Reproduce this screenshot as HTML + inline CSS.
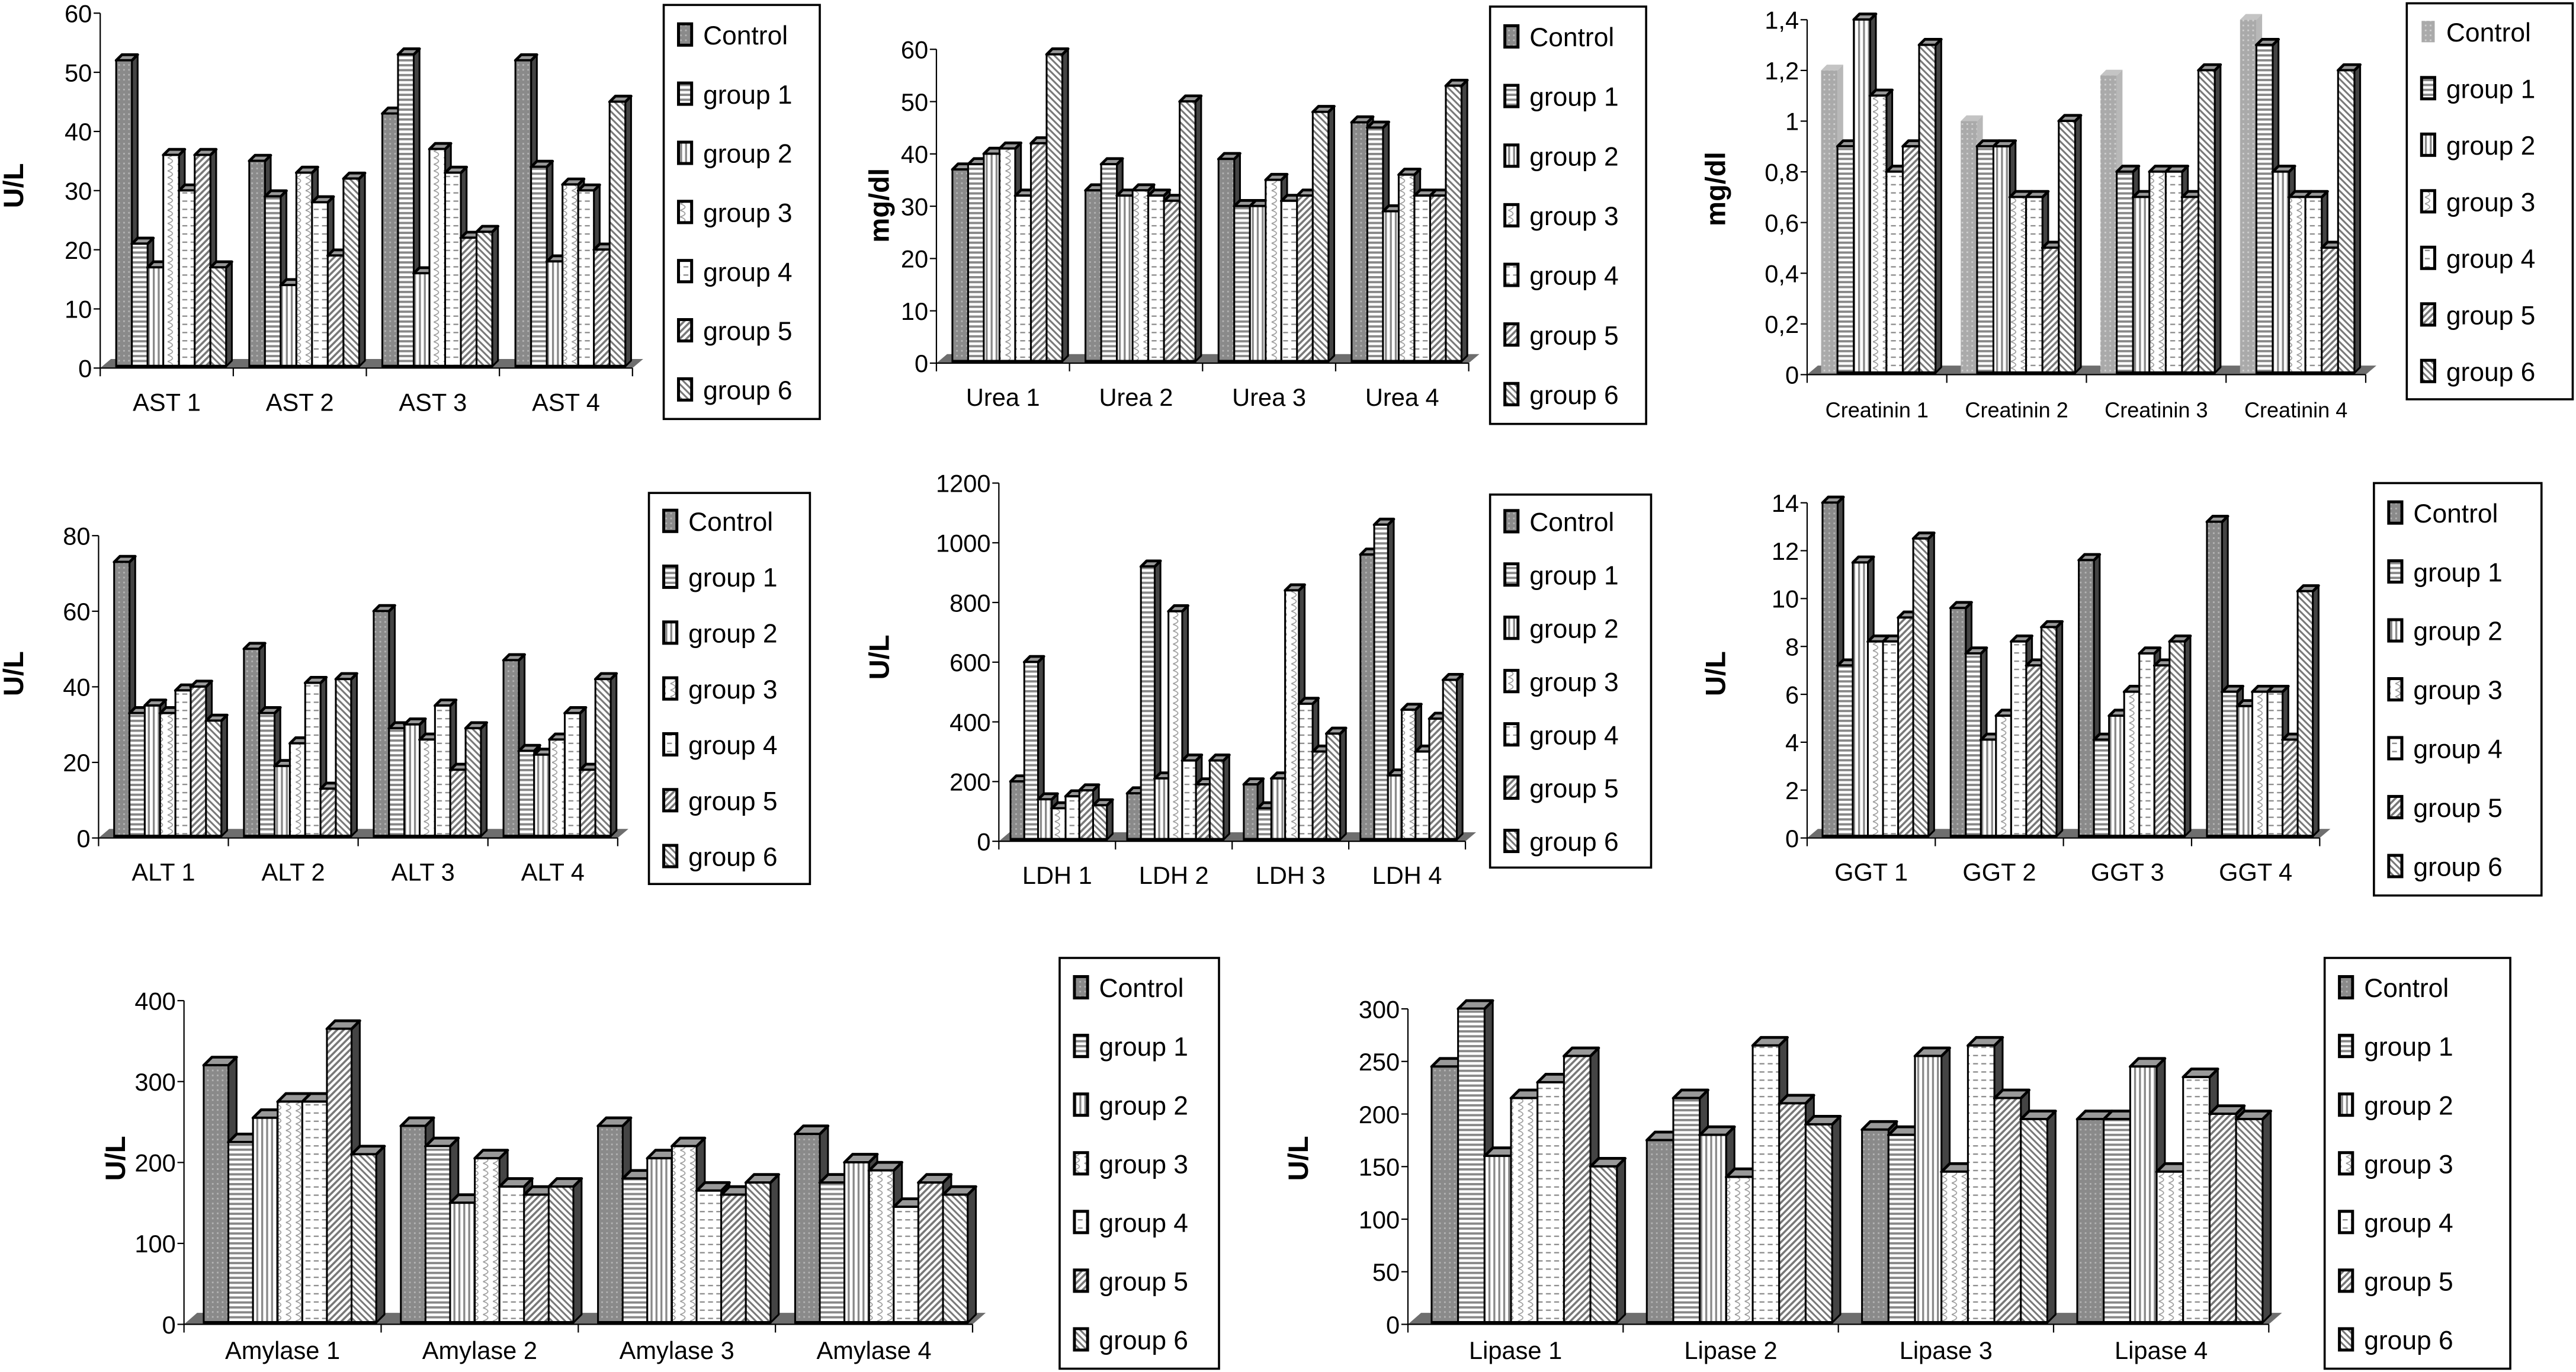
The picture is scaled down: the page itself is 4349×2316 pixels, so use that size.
<!DOCTYPE html>
<html><head><meta charset="utf-8">
<style>
html,body{margin:0;padding:0;background:#fff;}
svg{display:block;}
text{font-family:"Liberation Sans",Arial,sans-serif;fill:#000;}
</style></head>
<body>
<svg id="root" xmlns="http://www.w3.org/2000/svg" width="4349" height="2316" viewBox="0 0 1568 835">
<defs>
  <pattern id="p0" patternUnits="userSpaceOnUse" width="3" height="3"><rect width="3" height="3" fill="#8a8a8a"/><rect x="0" y="0" width="1" height="1" fill="#b5b5b5"/></pattern>
  <pattern id="p0l" patternUnits="userSpaceOnUse" width="3" height="3"><rect width="3" height="3" fill="#aaa"/><rect x="0" y="0" width="1" height="1" fill="#d0d0d0"/></pattern>
  <pattern id="p1" patternUnits="userSpaceOnUse" width="3" height="3"><rect width="3" height="3" fill="#fff"/><rect y="0" width="3" height="1.4" fill="#888"/></pattern>
  <pattern id="p2" patternUnits="userSpaceOnUse" width="3" height="3"><rect width="3" height="3" fill="#fff"/><rect x="0" width="1.2" height="3" fill="#888"/></pattern>
  <pattern id="p3" patternUnits="userSpaceOnUse" width="6" height="8"><rect width="6" height="8" fill="#fff"/><path d="M0,0 Q6,2 0,4 Q6,6 0,8" fill="none" stroke="#999" stroke-width="0.6"/></pattern>
  <pattern id="p4" patternUnits="userSpaceOnUse" width="5" height="5"><rect width="5" height="5" fill="#fff"/><rect x="1" y="2" width="3" height="0.8" fill="#888"/></pattern>
  <pattern id="p5" patternUnits="userSpaceOnUse" width="4" height="4"><rect width="4" height="4" fill="#fff"/><path d="M-1,5 L5,-1" stroke="#777" stroke-width="1.3"/><path d="M-1,1 L1,-1 M3,5 L5,3" stroke="#777" stroke-width="1.3"/></pattern>
  <pattern id="p6" patternUnits="userSpaceOnUse" width="4" height="4"><rect width="4" height="4" fill="#fff"/><path d="M-1,-1 L5,5" stroke="#777" stroke-width="1.1"/><path d="M3,-1 L5,1 M-1,3 L1,5" stroke="#777" stroke-width="1.1"/></pattern>
</defs>
<g id="charts"></g>
</svg>
<script>
const groups = ["Control","group 1","group 2","group 3","group 4","group 5","group 6"];

const astCats = ["AST 1","AST 2","AST 3","AST 4"];
const astTicks = [0,10,20,30,40,50,60];
const astVals = [[52,35,43,52],[21,29,53,34],[17,14,16,18],[36,33,37,31],[30,28,33,30],[36,19,22,20],[17,32,23,45]];

const ureaCats = ["Urea 1","Urea 2","Urea 3","Urea 4"];
const ureaTicks = [0,10,20,30,40,50,60];
const ureaVals = [[37,33,39,46],[38,38,30,45],[40,32,30,29],[41,33,35,36],[32,32,31,32],[42,31,32,32],[59,50,48,53]];

const creCats = ["Creatinin 1","Creatinin 2","Creatinin 3","Creatinin 4"];
const creTicks = [0,0.2,0.4,0.6,0.8,1,1.2,1.4];
const creTickLabels = ["0","0,2","0,4","0,6","0,8","1","1,2","1,4"];
const creVals = [[1.2,1.0,1.18,1.4],[0.9,0.9,0.8,1.3],[1.4,0.9,0.7,0.8],[1.1,0.7,0.8,0.7],[0.8,0.7,0.8,0.7],[0.9,0.5,0.7,0.5],[1.3,1.0,1.2,1.2]];

const altCats = ["ALT 1","ALT 2","ALT 3","ALT 4"];
const altTicks = [0,20,40,60,80];
const altVals = [[73,50,60,47],[33,33,29,23],[35,19,30,22],[33,25,26,26],[39,41,35,33],[40,13,18,18],[31,42,29,42]];

const ldhCats = ["LDH 1","LDH 2","LDH 3","LDH 4"];
const ldhTicks = [0,200,400,600,800,1000,1200];
const ldhVals = [[200,160,190,960],[600,920,110,1060],[140,210,210,220],[110,770,840,440],[150,270,460,300],[170,190,300,410],[120,270,360,540]];

const ggtCats = ["GGT 1","GGT 2","GGT 3","GGT 4"];
const ggtTicks = [0,2,4,6,8,10,12,14];
const ggtVals = [[14,9.6,11.6,13.2],[7.2,7.7,4.1,6.1],[11.5,4.1,5.1,5.5],[8.2,5.1,6.1,6.1],[8.2,8.2,7.7,6.1],[9.2,7.2,7.2,4.1],[12.5,8.8,8.2,10.3]];

const amyCats = ["Amylase 1","Amylase 2","Amylase 3","Amylase 4"];
const amyTicks = [0,100,200,300,400];
const amyVals = [[320,245,245,235],[225,220,180,175],[255,150,205,200],[275,205,220,190],[275,170,165,145],[365,160,160,175],[210,170,175,160]];

const lipCats = ["Lipase 1","Lipase 2","Lipase 3","Lipase 4"];
const lipTicks = [0,50,100,150,200,250,300];
const lipVals = [[245,175,185,195],[300,215,180,195],[160,180,255,245],[215,140,145,145],[230,265,265,235],[255,210,215,200],[150,190,195,195]];

const NS = "http://www.w3.org/2000/svg";
function mk(tag, attrs, parent){
  const e = document.createElementNS(NS, tag);
  for (const k in attrs) e.setAttribute(k, attrs[k]);
  parent.appendChild(e);
  return e;
}

function drawChart(cfg){
  const root = document.getElementById('charts');
  const g = mk('g', {}, root);
  
  
  const yScale = v => cfg.y0 - (v / cfg.max) * (cfg.y0 - cfg.yTop);
  const xR = cfg.ax + cfg.catW * cfg.cats.length;
  const d = cfg.depth;
  const floor = mk('polygon', {points:`${cfg.ax},${cfg.y0} ${xR},${cfg.y0} ${xR+d+3},${cfg.y0-d-2} ${cfg.ax+d+3},${cfg.y0-d-2}`, fill:'#6e6e6e'}, g);
  
  
  const yAxis = mk('line', {x1:cfg.ax, y1:cfg.yTop, x2:cfg.ax, y2:cfg.y0, stroke:'#000', 'stroke-width':0.8}, g);
  
  
  const xAxis = mk('line', {x1:cfg.ax, y1:cfg.y0, x2:xR, y2:cfg.y0, stroke:'#000', 'stroke-width':0.8}, g);
  
  
  cfg.ticks.forEach((t, i) => {
    const y = yScale(t);
    mk('line', {x1:cfg.ax-4, y1:y, x2:cfg.ax, y2:y, stroke:'#000', 'stroke-width':0.8}, g);
    const tx = mk('text', {x:cfg.ax-5, y:y+5.5, 'text-anchor':'end', 'font-size':cfg.fs}, g);
    tx.textContent = cfg.tickLabels ? cfg.tickLabels[i] : String(t);
    
    
  });
  for (let c = 0; c <= cfg.cats.length; c++){
    const x = cfg.ax + c * cfg.catW;
    mk('line', {x1:x, y1:cfg.y0, x2:x, y2:cfg.y0+5, stroke:'#000', 'stroke-width':0.8}, g);
  }
  cfg.cats.forEach((c, ci) => {
    const tx = mk('text', {x:cfg.ax + (ci+0.5)*cfg.catW, y:cfg.y0+(cfg.ly||26), 'text-anchor':'middle', 'font-size':cfg.cfs||cfg.fs}, g);
    tx.textContent = c;
    
    
  });
  const bw = cfg.catW * cfg.bwf;
  cfg.cats.forEach((c, ci) => {
    const gx = cfg.ax + ci*cfg.catW + cfg.catW*cfg.off;
    for (let s = 0; s < 7; s++){
      const v = cfg.vals[s][ci];
      const x = gx + s*bw, y = yScale(v), b = cfg.y0 - 1;
      const bar = mk('g', {}, g);
      
      
      const light = (s === 0 && cfg.lightControl);
      const sw = light ? 0 : 1.1;
      const st = light ? 'none' : '#000';
      mk('polygon', {points:`${x+bw},${b} ${x+bw+d},${b-d} ${x+bw+d},${y-d} ${x+bw},${y}`, fill: light ? '#b8b8b8' : '#444', stroke:st, 'stroke-width':sw, 'stroke-linejoin':'round'}, bar);
      mk('polygon', {points:`${x},${y} ${x+d},${y-d} ${x+bw+d},${y-d} ${x+bw},${y}`, fill: light ? '#c4c4c4' : '#999', stroke:st, 'stroke-width':sw+0.6, 'stroke-linejoin':'round'}, bar);
      mk('rect', {x:x, y:y, width:bw, height:b-y, fill: light ? 'url(#p0l)' : 'url(#p'+s+')', stroke:st, 'stroke-width':sw}, bar);
    }
    if (!cfg.lightControl) mk('line', {x1:gx, y1:cfg.y0-1, x2:gx+7*bw, y2:cfg.y0-1, stroke:'#000', 'stroke-width':2}, g);
    else mk('line', {x1:gx+bw, y1:cfg.y0-1, x2:gx+7*bw, y2:cfg.y0-1, stroke:'#000', 'stroke-width':2}, g);
  });
  const yt = mk('text', {x:cfg.ytx, y:cfg.yty, 'text-anchor':'middle', 'font-size':17, 'font-weight':'bold', transform:`rotate(-90 ${cfg.ytx} ${cfg.yty})`}, g);
  yt.textContent = cfg.ytitle;
  
  
  const L = cfg.leg;
  const lg = mk('g', {}, g);
  
  
  mk('rect', {x:L[0], y:L[1], width:L[2], height:L[3], fill:'#fff', stroke:'#000', 'stroke-width':1.3}, lg);
  const step = L[3] / 7;
  groups.forEach((name, i) => {
    const cy = L[1] + step*(i+0.5);
    const le = mk('g', {}, lg);
    
    
    const light = (i === 0 && cfg.lightControl);
    mk('rect', {x:L[0]+9, y:cy-6.5, width:8, height:13, fill: light ? 'url(#p0l)' : 'url(#p'+i+')', stroke: light ? 'none' : '#000', 'stroke-width':1.8}, le);
    const t = mk('text', {x:L[0]+24, y:cy+6, 'font-size':16}, le);
    t.textContent = name;
  });
}

drawChart({name:'ast', cats:astCats, ticks:astTicks, vals:astVals, max:60, ax:61, y0:224, yTop:8, catW:81, off:0.12, bwf:0.118, depth:3.5, fs:15, ytitle:'U/L', ytx:14, yty:113, leg:[404,3,95,252]});
drawChart({name:'urea', cats:ureaCats, ticks:ureaTicks, vals:ureaVals, max:60, ax:570, y0:221, yTop:30, catW:81, off:0.12, bwf:0.118, depth:3.5, fs:15, ytitle:'mg/dl', ytx:541, yty:125, leg:[907,4,95,254]});
drawChart({name:'creatinin', cats:creCats, ticks:creTicks, tickLabels:creTickLabels, vals:creVals, max:1.4, ax:1100, y0:228, yTop:12, catW:85, off:0.1, bwf:0.117, depth:3.5, fs:15, cfs:13, lightControl:true, ytitle:'mg/dl', ytx:1050, yty:115, leg:[1465,2,101,241]});
drawChart({name:'alt', cats:altCats, ticks:altTicks, vals:altVals, max:80, ax:60, y0:510, yTop:326, catW:79, off:0.12, bwf:0.118, depth:3.5, fs:15, ytitle:'U/L', ytx:14, yty:410, leg:[395,300,98,238]});
drawChart({name:'ldh', cats:ldhCats, ticks:ldhTicks, vals:ldhVals, max:1200, ax:608, y0:512, yTop:294, catW:71, off:0.1, bwf:0.118, depth:3.5, fs:15, ytitle:'U/L', ytx:541, yty:400, leg:[907,301,98,227]});
drawChart({name:'ggt', cats:ggtCats, ticks:ggtTicks, vals:ggtVals, max:14, ax:1100, y0:510, yTop:306, catW:78, off:0.12, bwf:0.118, depth:3.5, fs:15, ytitle:'U/L', ytx:1050, yty:410, leg:[1445,294,102,251]});
drawChart({name:'amylase', cats:amyCats, ticks:amyTicks, vals:amyVals, max:400, ax:112, y0:806, yTop:609, catW:120, off:0.1, bwf:0.125, depth:5, fs:15, ly:21, ytitle:'U/L', ytx:76, yty:705, leg:[645,583,97,250]});
drawChart({name:'lipase', cats:lipCats, ticks:lipTicks, vals:lipVals, max:300, ax:857, y0:806, yTop:614, catW:131, off:0.11, bwf:0.123, depth:5, fs:15, ly:21, ytitle:'U/L', ytx:796, yty:705, leg:[1415,583,113,250]});
</script>
</body></html>
